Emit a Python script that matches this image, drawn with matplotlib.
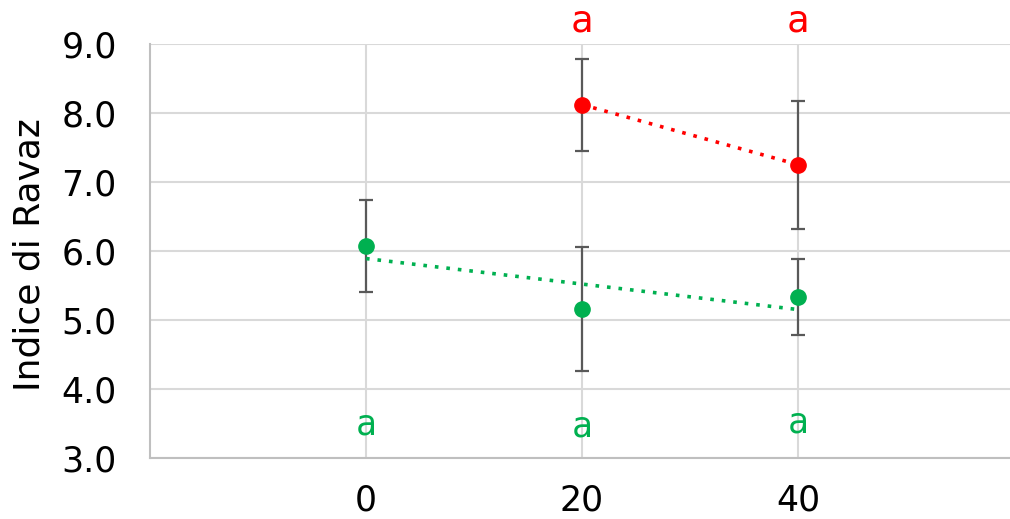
import matplotlib
matplotlib.use("Agg")
import matplotlib.pyplot as plt
import numpy as np

# dose levels on the x axis
green_x = [0, 20, 40]
green_y = [6.07, 5.15, 5.33]
green_lo = [5.40, 4.25, 4.78]
green_hi = [6.73, 6.05, 5.88]

red_x = [20, 40]
red_y = [8.12, 7.25]
red_lo = [7.45, 6.32]
red_hi = [8.78, 8.18]

# significance letters
red_letters = ["a", "a"]
red_letter_y = [9.32, 9.32]
green_letters = ["a", "a", "a"]
green_letter_y = [3.48, 3.45, 3.51]

x_ticks = [0, 20, 40]
y_ticks = [3, 4, 5, 6, 7, 8, 9]

GREEN = "#00b050"
RED = "#ff0000"
ERR = "#595959"


def draw_series(ax, x, y, lo, hi, color):
    x = np.array(x)
    y = np.array(y)
    yerr = [y - np.array(lo), np.array(hi) - y]
    ax.errorbar(x, y, yerr=yerr, fmt="none", ecolor=ERR, elinewidth=1.6,
                capsize=5, capthick=1.6, zorder=3)
    # linear trendline
    k, b = np.polyfit(x, y, 1)
    xt = np.array([x.min(), x.max()])
    ax.plot(xt, k * xt + b, linestyle=(0, (1, 2.2)), color=color, lw=2.6,
            zorder=4)
    ax.plot(x, y, "o", color=color, markersize=11, zorder=5)


def main():
    fig = plt.figure(figsize=(10.10, 5.19), dpi=100)
    ax = fig.add_axes([150 / 1010, 61.5 / 519, 864 / 1010, 413.5 / 519])

    draw_series(ax, green_x, green_y, green_lo, green_hi, GREEN)
    draw_series(ax, red_x, red_y, red_lo, red_hi, RED)

    for x, y, t in zip(red_x, red_letter_y, red_letters):
        ax.text(x, y, t, color=RED, fontsize=27, family="DejaVu Sans Mono",
                ha="center", va="center", clip_on=False)
    for x, y, t in zip(green_x, green_letter_y, green_letters):
        ax.text(x, y, t, color=GREEN, fontsize=25, family="DejaVu Sans Mono",
                ha="center", va="center")

    ax.set_xlim(-20, 60)
    ax.set_ylim(3, 9)
    ax.set_xticks(x_ticks)
    ax.set_yticks(y_ticks)
    ax.set_yticklabels([f"{v:.1f}" for v in y_ticks])
    ax.tick_params(length=0, labelsize=25, colors="black")
    ax.tick_params(axis="y", pad=24)
    ax.tick_params(axis="x", pad=19)
    ax.grid(True, color="#d9d9d9", lw=1.5, zorder=0)
    ax.set_axisbelow(True)
    for s in ["top", "right"]:
        ax.spines[s].set_visible(False)
    for s in ["left", "bottom"]:
        ax.spines[s].set_color("#bfbfbf")
        ax.spines[s].set_linewidth(1.5)
    fig.text(30 / 1010, 1 - 255 / 519, "Indice di Ravaz", fontsize=26,
             rotation=90, ha="center", va="center")

    fig.savefig("out.png", dpi=100)


if __name__ == "__main__":
    main()
